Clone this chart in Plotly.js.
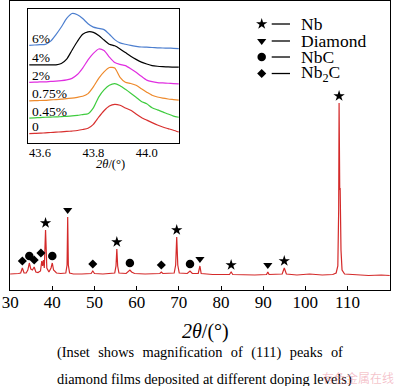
<!DOCTYPE html>
<html>
<head>
<meta charset="utf-8">
<script src="https://cdn.plot.ly/plotly-3.0.1.min.js"></script>
<style>html,body{margin:0;padding:0;background:#fff;}#chart{width:400px;height:386px;}</style>
</head>
<body>
<div id="chart"></div>
<script>
// ---- main XRD pattern (2θ in degrees, intensity in arbitrary units) ----
const mainTheta = [30,31,32,32.5,32.9,33.3,33.8,34.2,34.55,34.9,35.3,35.7,36.1,36.6,37.2,37.5,37.7,37.9,38.1,38.4,38.7,39.2,39.7,40.0,40.3,41,42,43.2,43.5,43.65,43.8,44.1,45,47,49.2,49.6,50,52,54.8,55.1,55.3,55.5,55.8,57.5,58,58.4,58.8,59.5,62,65.5,65.85,66.2,68.9,69.25,69.5,69.75,70.1,72,72.65,73.2,74.6,75,75.3,78,82,82.4,82.8,88,90.8,91.1,91.4,94.5,95,95.5,98,101,104,106.5,107.3,107.7,107.9,108,108.15,108.25,108.45,108.7,109.3,112,115,118,120];
const mainIntensity = [16,16,16.5,17,22,17,17,20,27,21,20,23,18,17.5,19,29,24,30,22,60,22,18,22,27,20,17,16.5,17,25,73,25,17,16,16,16.5,19,16.5,16,17,24,41,24,17,16.5,18,20,18,16.5,16,16.5,18,16.5,17,25,53,25,17,16.5,19,16.5,16.5,24,16.5,15.5,15.5,18,15.5,15,15.5,18,15.5,16,22,16,15,16,15,15.5,17,24,80,187,100,102,40,20,16,15,14.5,15,14.5];

// ---- peak assignments ----
const peakTheta = [32.9,34.55,35.7,37.3,38.4,40.0,43.65,49.6,55.3,58.4,65.85,69.5,72.65,75.0,82.4,91.1,95.0,108.0];
const peakTop   = [22,27,23,30,60,27,73,19,41,20,18,53,19,24,18,18,22,187];
const peakPhase = ['Nb2C','NbC','Nb2C','Nb2C','Nb','NbC','Diamond','Nb2C','Nb','NbC','Nb2C','Nb','NbC','Diamond','Nb','Diamond','Nb','Nb'];

// ---- legend ----
const phaseKeys   = ['Nb','Diamond','NbC','Nb2C'];
const phaseLabels = ['Nb','Diamond','NbC','Nb<sub>2</sub>C'];

// ---- inset: (111) diamond peak at different doping levels ----
const insetTheta = [43.56,43.58,43.60,43.62,43.64,43.66,43.68,43.70,43.72,43.74,43.76,43.78,43.80,43.82,43.84,43.86,43.88,43.90,43.92,43.94,43.96,43.98,44.00,44.02,44.04,44.06,44.08,44.10,44.12];
const inset0   = [9.1,9.3,9.5,9.9,10.2,10.6,10.9,11.3,11.7,12.2,13.2,14.5,18.4,25.6,32,36.7,38.5,37.5,34.8,32.5,28.8,25.3,22.6,20.1,17.7,15.7,14.1,12.5,10.7];
const inset045 = [24.6,24.9,25.2,25.5,25.7,25.8,26.1,26.4,26.8,27.4,28.2,29,34.9,45.7,52.9,57.6,59.3,57.1,53.5,49.6,45.6,41.4,39,35.1,32.9,30.9,28.7,26.7,25.5];
const inset075 = [42,42.2,42.3,42.5,42.9,43.2,43.6,44.2,44.7,45.5,46.5,49.2,56,64.5,71,75.4,74.8,65.5,60.5,59.3,57.5,54,50.6,47.5,45.8,44.6,43.8,43.2,42.6];
const inset2   = [60.5,60.7,60.9,61,61.4,61.7,62.2,63,64.5,68.3,74.8,83,89.5,93.9,92.3,85.8,80.3,78.5,77.3,74.2,70.6,66.5,62.7,61.2,60.3,59.9,59.6,59.3,59];
const inset4   = [78,78,78,78,78,78,79.3,83.7,92.7,101.4,108.6,111.1,110.6,107.4,102.9,98.6,97.1,94,90.3,86.6,83.5,80.8,78.9,77.3,76.6,76.2,75.9,75.8,75.7];
const inset6   = [97.6,97.9,98.2,98.6,101.8,108.4,116,124.5,129.5,128.2,124.4,119.3,115.8,114.6,113.3,108.7,103.3,100,98.7,97.5,96.6,95.9,95.7,95.4,95.1,94.9,94.8,94.6,94.3];
const insetSeries = [inset0, inset045, inset075, inset2, inset4, inset6];
const insetLabels = ['0','0.45%','0.75%','2%','4%','6%'];
const insetColors = ['#d8302f','#3fcc3f','#ee8a2c','#e02ee0','#000000','#4d7fcf'];

const SERIF = 'Liberation Serif, Times New Roman, serif';
const symbolOf = {Nb:'star', Diamond:'triangle-down', NbC:'circle', Nb2C:'diamond'};
const sizeOf   = {Nb:8.5, Diamond:8, NbC:8.5, Nb2C:7};

const xMainRange = [29.97, 120.07];
const yMainRange = [0, 289];

const traces = [];
traces.push({
  x: mainTheta, y: mainIntensity, type:'scatter', mode:'lines',
  line:{color:'#d42a2a', width:1.2}, xaxis:'x', yaxis:'y', hoverinfo:'skip', showlegend:false
});
// peak markers
phaseKeys.forEach(k => {
  const xs = [], ys = [];
  peakTheta.forEach((t,i) => { if (peakPhase[i] === k) { xs.push(t); ys.push(peakTop[i] + 7); } });
  traces.push({x: xs, y: ys, type:'scatter', mode:'markers', xaxis:'x', yaxis:'y', showlegend:false,
    marker:{symbol:symbolOf[k], size:sizeOf[k], color:'#000', line:{width:0}}, hoverinfo:'skip'});
});
// legend symbols (placed in paper fractions converted to main axes)
const legFx = 0.6624, legFy = [0.9204, 0.8616, 0.8062, 0.7491];
phaseKeys.forEach((k,i) => {
  traces.push({x:[xMainRange[0] + legFx*(xMainRange[1]-xMainRange[0])],
               y:[yMainRange[0] + legFy[i]*(yMainRange[1]-yMainRange[0])],
               type:'scatter', mode:'markers', xaxis:'x', yaxis:'y', showlegend:false, hoverinfo:'skip',
               marker:{symbol:symbolOf[k], size:sizeOf[k], color:'#000', line:{width:0}}});
});
// inset curves
insetSeries.forEach((s,i) => {
  traces.push({x: insetTheta, y: s, type:'scatter', mode:'lines', xaxis:'x2', yaxis:'y2',
    line:{color:insetColors[i], width:1.2, shape:'spline', smoothing:0.6}, showlegend:false, hoverinfo:'skip'});
});

const annotations = [];
const shapes = [];
// legend text and dashes
phaseLabels.forEach((lab,i) => {
  annotations.push({xref:'paper', yref:'paper', x:0.7613, y:legFy[i], xanchor:'left', yanchor:'middle',
    text: lab, showarrow:false, font:{family:SERIF, size:17.5, color:'#000'}});
  shapes.push({type:'line', xref:'paper', yref:'paper', x0:0.6887, x1:0.7368, y0:legFy[i], y1:legFy[i],
    line:{color:'#000', width:1.3}});
});
// inset labels
insetLabels.forEach((lab,i) => {
  annotations.push({xref:'x2', yref:'y2', x:43.5625, y:insetSeries[i][0] + 7, xanchor:'left', yanchor:'middle',
    text: lab, showarrow:false, font:{family:SERIF, size:13.5, color:'#000'}});
});
// inset x title
annotations.push({xref:'paper', yref:'paper', x:(110-10)/380, y:(290-164)/289, xanchor:'center', yanchor:'middle',
  text:'<i>2θ</i>/(°)', showarrow:false, font:{family:SERIF, size:12.5, color:'#000'}});
// main x title
annotations.push({xref:'paper', yref:'paper', x:(205-10)/380, y:(290-331)/289, xanchor:'center', yanchor:'middle',
  text:'<i>2θ</i>/(°)', showarrow:false, font:{family:SERIF, size:20, color:'#000'}});
// caption
const cap1 = ['(Inset','shows','magnification','of','(111)','peaks','of'].join('\u00a0\u200a ');
annotations.push({xref:'paper', yref:'paper', x:(55-10)/380, y:(290-352)/289, xanchor:'left', yanchor:'middle',
  text:cap1, showarrow:false, font:{family:SERIF, size:14.4, color:'#000'}});
annotations.push({xref:'paper', yref:'paper', x:(55-10)/380, y:(290-379)/289, xanchor:'left', yanchor:'middle',
  text:'diamond films deposited at different doping levels)', showarrow:false, font:{family:SERIF, size:14.4, color:'#000'}});
// watermark
annotations.push({xref:'paper', yref:'paper', x:(358-10)/380, y:(290-377)/289, xanchor:'center', yanchor:'middle',
  text:'有色金属在线', showarrow:false, font:{family:'Noto Sans CJK SC', size:12, color:'rgba(232,120,140,0.45)'}});

const layout = {
  width:400, height:386,
  margin:{l:10, r:10, t:1, b:96, pad:0},
  paper_bgcolor:'#fff', plot_bgcolor:'#fff',
  showlegend:false,
  font:{family:SERIF, color:'#000'},
  xaxis:{range:xMainRange, tickvals:[30,40,50,60,70,80,90,100,110,120], ticks:'inside', ticklen:4, tickwidth:1,
    tickcolor:'#000', showline:true, linecolor:'#000', linewidth:1.2, mirror:true, showgrid:false, zeroline:false,
    tickfont:{family:SERIF, size:17, color:'#000'}, ticklabelstandoff:-4, fixedrange:true},
  yaxis:{range:yMainRange, showticklabels:false, ticks:'', showline:true, linecolor:'#000', linewidth:1.2,
    mirror:true, showgrid:false, zeroline:false, fixedrange:true},
  xaxis2:{domain:[(27.7-10)/380, (179.3-10)/380], anchor:'y2', range:[43.554, 44.122], tickvals:[43.6,43.8,44.0],
    ticktext:['43.6','43.8','44.0'], ticks:'', showline:true, linecolor:'#000', linewidth:1, mirror:true,
    showgrid:false, zeroline:false, tickfont:{family:SERIF, size:12.5, color:'#000'}, ticklabelstandoff:-2},
  yaxis2:{domain:[(290-143)/289, (290-9.3)/289], anchor:'x2', range:[-0.3, 133.7], showticklabels:false, ticks:'',
    showline:true, linecolor:'#000', linewidth:1, mirror:true, showgrid:false, zeroline:false},
  annotations: annotations,
  shapes: shapes
};

Plotly.newPlot('chart', traces, layout, {staticPlot:true, displayModeBar:false});
</script>
</body>
</html>
